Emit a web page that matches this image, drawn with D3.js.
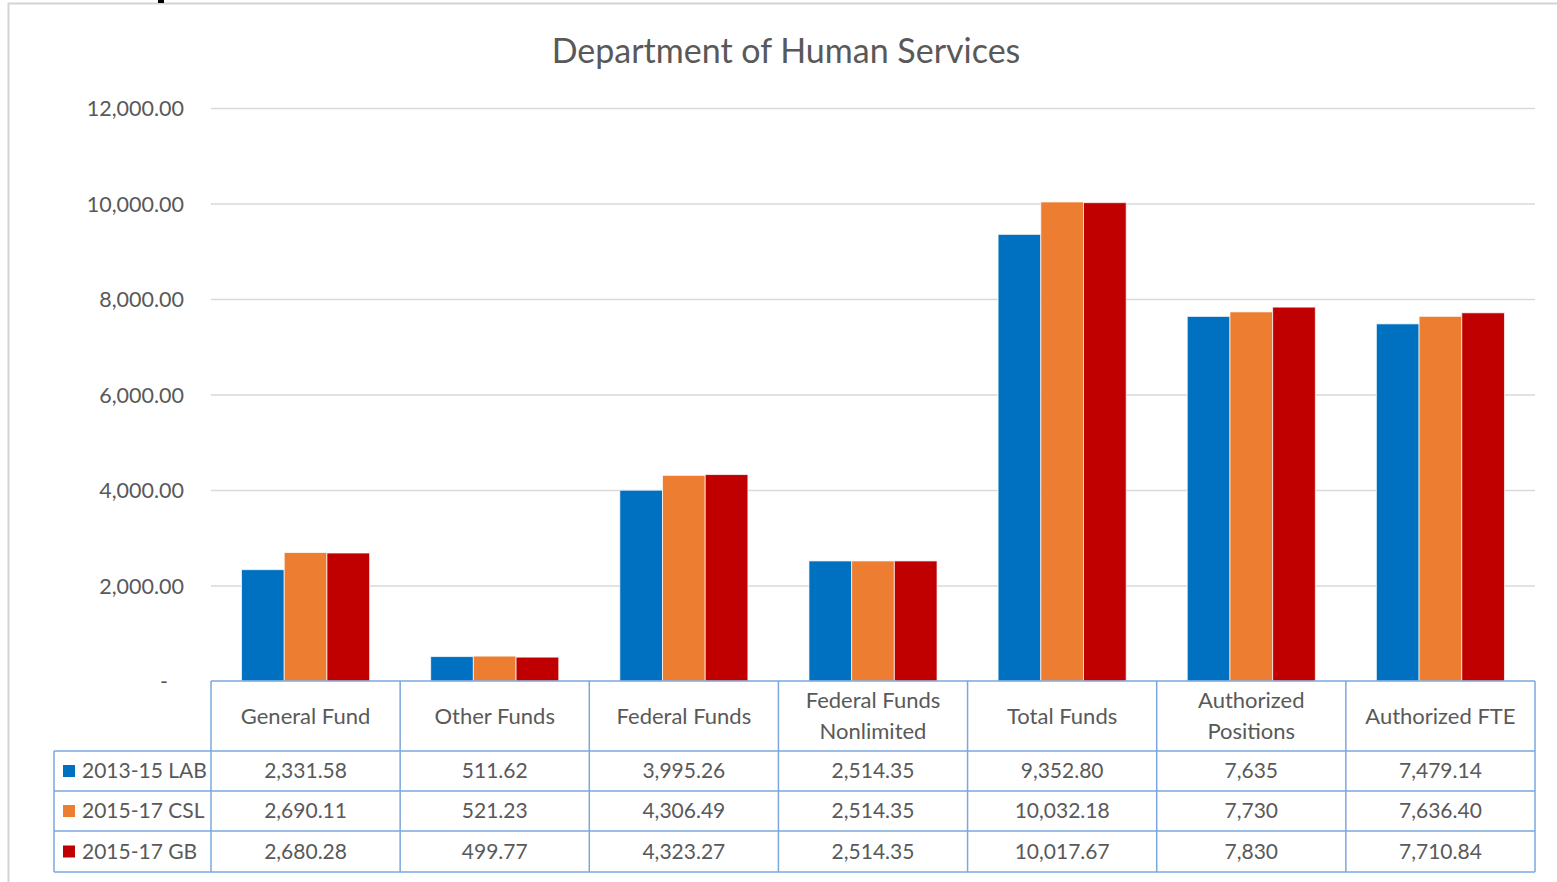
<!DOCTYPE html>
<html>
<head>
<meta charset="utf-8">
<script src="https://cdn.jsdelivr.net/npm/d3@7"></script>
<style>
  body { margin: 0; background: #fff; }
  text { font-family: Lato, "Open Sans", sans-serif; fill: #595959; }
</style>
</head>
<body>
<div id="main"></div>
<script>
// chart data
const categories = ["General Fund", "Other Funds", "Federal Funds", "Federal Funds\nNonlimited", "Total Funds", "Authorized\nPositions", "Authorized FTE"]
const decimals = [2, 2, 2, 2, 2, 0, 2]
const seriesNames = ["2013-15 LAB", "2015-17 CSL", "2015-17 GB"]
const lab = [2331.58, 511.62, 3995.26, 2514.35, 9352.80, 7635, 7479.14]
const csl = [2690.11, 521.23, 4306.49, 2514.35, 10032.18, 7730, 7636.40]
const gb = [2680.28, 499.77, 4323.27, 2514.35, 10017.67, 7830, 7710.84]
const yTicks = [0, 2000, 4000, 6000, 8000, 10000, 12000]
const colors = ["#0070c0", "#ed7d31", "#c00000"]

const seriesValues = [lab, csl, gb]

let width = 1557,
    height = 882

const plot = { left: 211, right: 1535, top: 108, bottom: 681 }
const rowH = [70, 40, 40, 41]
const tableLeft = 54

const svg = d3.select("div#main")
    .append("svg")
    .attr("width", width)
    .attr("height", height)

// outer frame
svg.append("path")
    .attr("d", "M8.5,882 V3.5 H1557")
    .attr("fill", "none")
    .attr("stroke", "#d4d4d4")
    .attr("stroke-width", 2)
svg.append("rect")
    .attr("x", 158).attr("y", 0)
    .attr("width", 6).attr("height", 3)
    .attr("fill", "#000")

svg.append("text")
    .attr("x", 786)
    .attr("y", 63)
    .attr("text-anchor", "middle")
    .style("font-size", "34px")
    .text("Department of Human Services")

let y = d3.scaleLinear()
    .domain([0, 12000])
    .range([plot.bottom, plot.top])

let x0 = d3.scaleBand()
    .domain(categories)
    .range([plot.left, plot.right])
    .paddingInner(0)
    .paddingOuter(0)

let x1 = d3.scaleBand()
    .domain(seriesNames)
    .range([0, x0.bandwidth()])
    .paddingInner(0)
    .paddingOuter(0.715)

// gridlines + y labels
let yAxis = d3.axisLeft(y)
    .tickValues(yTicks)
    .tickSize(-(plot.right - plot.left))
    .tickPadding(27)
    .tickFormat(d => d === 0 ? "-" : d3.format(",.2f")(d))

let gy = svg.append("g")
    .attr("transform", `translate(${plot.left},0)`)
    .call(yAxis)
gy.select(".domain").remove()
gy.selectAll(".tick line").attr("stroke", "#d9d9d9").attr("stroke-width", 1.3)
gy.selectAll(".tick text")
    .style("font-size", "21.5px")
    .attr("fill", "#595959")
    .attr("dy", "0.35em")
gy.selectAll(".tick").filter(d => d === 0).select("text").attr("dx", -16)
gy.selectAll(".tick").filter(d => d === 0).select("line").remove()

// bars
let groups = svg.selectAll(".group")
    .data(categories)
    .join("g")
    .attr("class", "group")
    .attr("transform", d => `translate(${x0(d)},0)`)

groups.selectAll("rect")
    .data((c, i) => seriesNames.map((s, j) => ({ s: s, v: seriesValues[j][i], j: j })))
    .join("rect")
    .attr("x", d => x1(d.s))
    .attr("y", d => y(d.v))
    .attr("width", x1.bandwidth())
    .attr("height", d => y(0) - y(d.v))
    .attr("fill", d => colors[d.j])
    .attr("stroke", "#ffffff")
    .attr("stroke-opacity", 0.7)
    .attr("stroke-width", 1)

// data table
const border = "#7ba7dc"
let table = svg.append("g").attr("class", "table")
const rowY = [plot.bottom]
rowH.forEach(h => rowY.push(rowY[rowY.length - 1] + h))

// horizontal lines
table.append("line")
    .attr("x1", plot.left).attr("x2", plot.right)
    .attr("y1", rowY[0]).attr("y2", rowY[0])
    .attr("stroke", border).attr("stroke-width", 1.5)
rowY.slice(1).forEach(yy => {
    table.append("line")
        .attr("x1", tableLeft).attr("x2", plot.right)
        .attr("y1", yy).attr("y2", yy)
        .attr("stroke", border).attr("stroke-width", 1.5)
})
// vertical lines
table.append("line")
    .attr("x1", tableLeft).attr("x2", tableLeft)
    .attr("y1", rowY[1]).attr("y2", rowY[4])
    .attr("stroke", border).attr("stroke-width", 1.5)
categories.concat(["end"]).forEach((c, i) => {
    let xx = plot.left + i * x0.bandwidth()
    table.append("line")
        .attr("x1", xx).attr("x2", xx)
        .attr("y1", rowY[0]).attr("y2", rowY[4])
        .attr("stroke", border).attr("stroke-width", 1.5)
})

// header labels
categories.forEach((c, i) => {
    let lines = c.split("\n")
    let cx = x0(c) + x0.bandwidth() / 2
    let t = table.append("text")
        .attr("x", cx)
        .attr("text-anchor", "middle")
        .style("font-size", "22px")
    lines.forEach((l, k) => {
        let cy = (rowY[0] + rowY[1]) / 2 + (k - (lines.length - 1) / 2) * 31
        t.append("tspan")
            .attr("x", cx)
            .attr("y", cy)
            .attr("dy", "0.35em")
            .text(l)
    })
})

// series rows
seriesNames.forEach((s, j) => {
    let cy = (rowY[j + 1] + rowY[j + 2]) / 2
    table.append("rect")
        .attr("x", 63).attr("y", cy - 6)
        .attr("width", 12).attr("height", 12)
        .attr("fill", colors[j])
    table.append("text")
        .attr("x", 82).attr("y", cy)
        .attr("dy", "0.35em")
        .style("font-size", "21px")
        .text(s)
    categories.forEach((c, i) => {
        let fmt = decimals[i] === 0 ? d3.format(",") : d3.format(",.2f")
        table.append("text")
            .attr("x", x0(c) + x0.bandwidth() / 2)
            .attr("y", cy)
            .attr("dy", "0.35em")
            .attr("text-anchor", "middle")
            .style("font-size", "21px")
            .text(fmt(seriesValues[j][i]))
    })
})
</script>
</body>
</html>
